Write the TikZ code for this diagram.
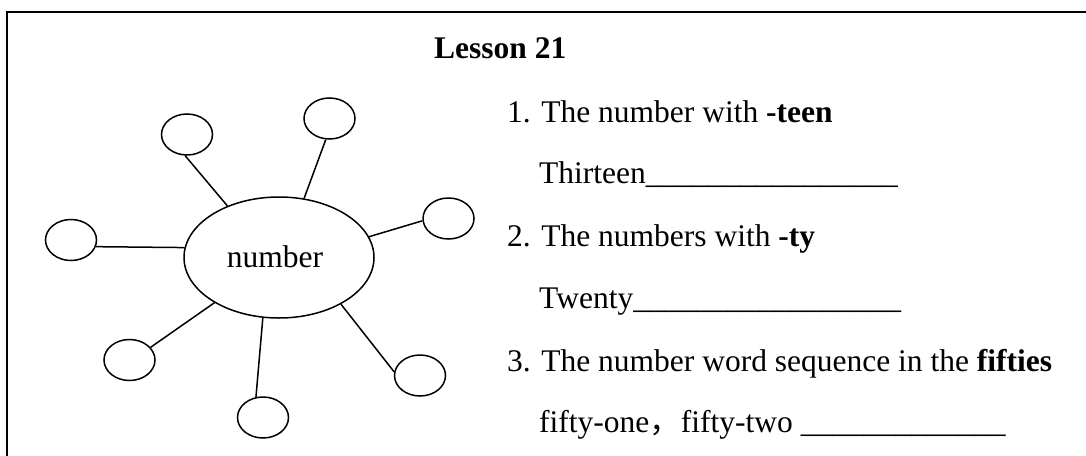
\documentclass[tikz,border=0pt]{standalone}
\usepackage{fontspec}
\setmainfont{Liberation Serif}
\newfontfamily\cjkfont{Noto Sans CJK SC}
\usetikzlibrary{shapes.geometric}
\tikzset{
  bubble/.style={draw, ellipse, line width=1.5pt, minimum width=51pt, minimum height=41pt, inner sep=0pt},
  hub/.style={draw, ellipse, line width=1.5pt, minimum width=190pt, minimum height=121pt, inner sep=0pt},
  spoke/.style={line width=1.5pt},
  txt/.style={anchor=base west, inner sep=0pt, font=\fontsize{31.5}{38}\selectfont},
  hubtxt/.style={anchor=base, inner sep=0pt, font=\fontsize{31.5}{38}\selectfont},
  boldtxt/.style={anchor=base west, inner sep=0pt, font=\bfseries\fontsize{31.5}{38}\selectfont},
  frameline/.style={line width=1.6pt}
}
\begin{document}
\begin{tikzpicture}[x=1pt,y=-1pt]
\useasboundingbox (0,0) rectangle (1086,455);
\coordinate (fb) at (7,456);
\coordinate (fc) at (7,12);
\coordinate (fr) at (1087,12);
\draw[frameline] (fb) -- (fc) -- (fr);

\node[hub] (hub) at (279,257.5) {};
\node[hubtxt] (hublabel) at (275,267) {number};
\node[bubble] (b1) at (187,134.5) {};
\node[bubble] (b2) at (329.5,118.5) {};
\node[bubble] (b3) at (71,240) {};
\node[bubble] (b4) at (448.5,218.5) {};
\node[bubble] (b5) at (129.5,360) {};
\node[bubble] (b6) at (263,417.5) {};
\node[bubble] (b7) at (420,375.5) {};

\draw[spoke] (hub.135) -- (b1.265);
\draw[spoke] (hub.67) -- (b2.260);
\draw[spoke] (hub.174) -- (b3.345);
\draw[spoke] (hub.13.5) -- (b4.185);
\draw[spoke] (hub.215) -- (b5.31);
\draw[spoke] (hub.255) -- (b6.109);
\draw[spoke] (hub.323) -- (b7.172);

\node[boldtxt] (lesson) at (434,58) {Lesson 21};
\node[txt] (q1) at (507,122) {1. The number with \textbf{-teen}};
\node[txt] (a1) at (539,183) {Thirteen\_\_\_\_\_\_\_\_\_\_\_\_\_\_\_\_};
\node[txt] (q2) at (507,246) {2. The numbers with \textbf{-ty}};
\node[txt] (a2) at (539,308) {Twenty\_\_\_\_\_\_\_\_\_\_\_\_\_\_\_\_\_};
\node[txt] (q3) at (507,371) {3. The number word sequence in the \textbf{fifties}};
\node[txt] (a3) at (539,432) {fifty-one{\cjkfont ，}fifty-two \_\_\_\_\_\_\_\_\_\_\_\_\_};
\end{tikzpicture}
\end{document}
